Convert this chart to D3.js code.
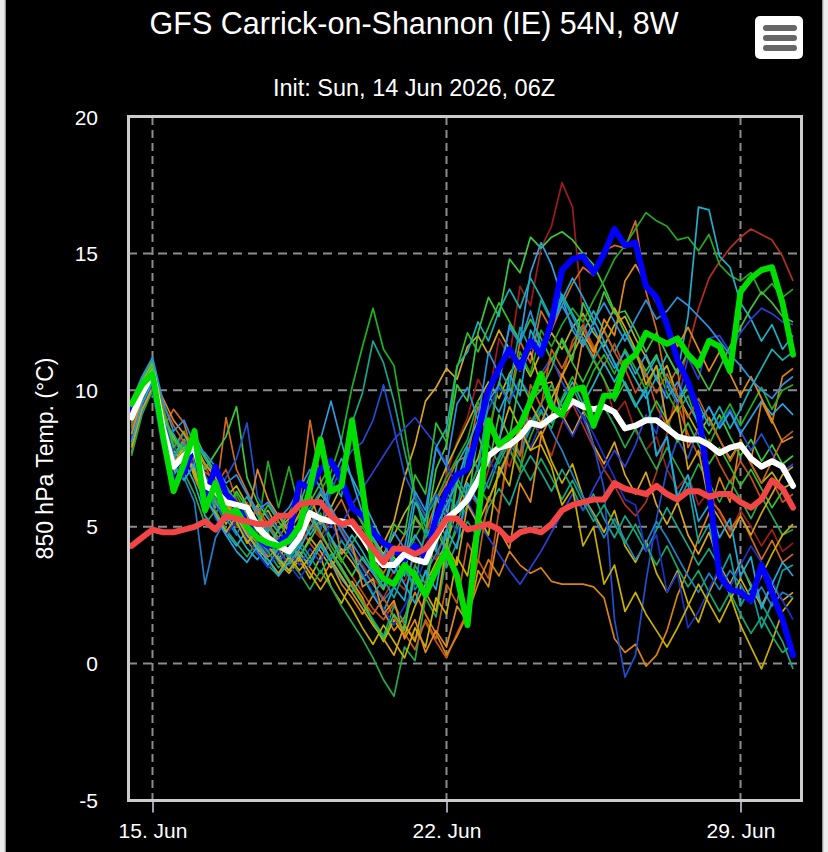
<!DOCTYPE html>
<html>

<head>
    <meta charset="utf-8">
    <title>GFS Ensemble 850 hPa</title>
    <script src="https://d3js.org/d3.v7.min.js"></script>
    <style>
        body { margin: 0; background: #ececec; }
        svg text { font-family: "Liberation Sans", Arial, sans-serif; }
    </style>
</head>

<body>
    <div id="my_dataviz"></div>

<script>

    // ---- data (850 hPa temperature, deg C, 6-hourly from 14 Jun 12Z) ----
    var startTime = Date.UTC(2026, 5, 14, 12);
    var stepHours = 6;

    var tickDates = [Date.UTC(2026, 5, 15), Date.UTC(2026, 5, 22), Date.UTC(2026, 5, 29)];
    var yTicks = [-5, 0, 5, 10, 15, 20];

    var titleText = "GFS Carrick-on-Shannon (IE) 54N, 8W";
    var subtitleText = "Init: Sun, 14 Jun 2026, 06Z";
    var yAxisTitle = "850 hPa Temp. (°C)";

    // ensemble members (thin lines)
    var memberColors = ["#9b1c1c", "#b03020", "#c4501c", "#d2691e", "#d9820f", "#daa520", "#c9b000", "#b8b418",
        "#3cc83c", "#22aa22", "#1db31d", "#17a589", "#1fb0c8", "#25a84a", "#1f4fd0", "#2a3fd6",
        "#1f7fc8", "#2ea0e0", "#18b0b4", "#12a86a", "#2fbf2f", "#1a30c8", "#c0601a", "#d4a017",
        "#c8b000", "#e08a1e", "#10a0a0", "#40c040", "#20a8d8", "#2c90e0"];

    var members = [
        [8.6, 9.8, 10.7, 9.1, 7.9, 8.2, 7.5, 6.9, 6.2, 5.4, 5.0, 5.3, 4.7, 4.1, 4.4, 3.8,
         4.5, 5.1, 4.6, 5.3, 4.9, 4.2, 3.6, 3.1, 2.7, 3.4, 3.0, 3.9, 4.6, 5.8, 6.9, 8.1,
         9.0, 10.4, 9.7, 11.9, 11.2, 13.8, 13.1, 15.2, 16.0, 17.6, 16.7, 12.6, 11.2, 10.4, 9.1, 9.6,
         8.5, 7.8, 8.3, 7.1, 6.4, 6.9, 5.8, 6.3, 5.5, 4.8, 5.6, 5.0, 4.3, 4.9, 4.1, 4.4],
        [8.3, 9.6, 10.4, 8.9, 7.5, 7.2, 7.6, 6.1, 7.0, 6.2, 5.6, 5.9, 5.1, 4.7, 4.4, 3.9,
         4.3, 5.0, 4.6, 5.5, 4.8, 4.1, 3.5, 2.9, 2.4, 3.1, 2.7, 3.6, 4.2, 3.8, 4.9, 5.6,
         6.3, 5.8, 7.1, 7.9, 7.2, 8.4, 9.0, 8.3, 7.6, 8.8, 9.5, 8.7, 7.9, 7.1, 6.5, 5.8,
         5.4, 5.9, 7.0, 8.4, 10.1, 11.5, 13.0, 14.1, 14.7, 15.2, 15.6, 15.9, 15.7, 15.5, 14.9, 14.0],
        [9.2, 10.1, 10.9, 9.4, 8.1, 7.9, 8.3, 7.2, 6.5, 7.1, 6.0, 5.2, 5.6, 4.9, 5.2, 4.6,
         5.0, 4.4, 3.9, 4.5, 3.8, 3.2, 2.6, 2.0, 1.6, 2.2, 1.4, 0.9, 1.5, 0.8, 0.2, 1.1,
         1.9, 3.8, 3.1, 5.6, 7.9, 7.0, 9.8, 10.4, 11.1, 10.5, 11.8, 12.4, 11.6, 10.9, 11.7, 10.8,
         9.9, 10.6, 9.4, 8.7, 9.5, 8.4, 7.6, 8.2, 7.3, 6.6, 7.4, 6.8, 6.0, 6.7, 5.9, 6.2],
        [8.1, 9.4, 10.3, 8.6, 9.3, 8.8, 7.4, 6.6, 6.0, 9.0, 7.1, 6.3, 5.5, 5.0, 4.6, 5.2,
         5.8, 8.9, 6.7, 5.4, 6.0, 5.1, 4.5, 3.8, 3.3, 4.0, 4.7, 5.3, 4.8, 5.9, 6.6, 7.4,
         7.6, 9.4, 8.2, 10.3, 9.6, 11.8, 11.0, 12.9, 12.2, 13.1, 13.9, 14.5, 14.2, 15.1, 15.3, 15.2,
         16.2, 13.6, 12.2, 10.1, 10.8, 7.9, 8.6, 6.0, 5.6, 4.9, 5.4, 4.6, 3.8, 4.5, 3.7, 4.0],
        [7.7, 9.5, 10.5, 8.2, 7.4, 8.0, 6.8, 5.9, 6.6, 5.8, 5.2, 4.8, 4.4, 3.9, 4.2, 3.6,
         4.1, 3.5, 3.0, 3.7, 2.9, 2.4, 1.8, 2.5, 1.9, 1.2, 1.7, 2.6, 1.8, 1.1, 0.3, 1.0,
         1.8, 2.9, 3.8, 3.2, 4.1, 3.6, 3.3, 3.5, 3.0, 2.9, 2.9, 2.9, 2.8, 2.4, 0.9, 0.4,
         0.7, -0.1, 0.3, 1.2, 2.5, 3.4, 4.6, 5.5, 6.8, 5.9, 8.2, 7.4, 9.6, 8.8, 10.5, 10.8],
        [8.9, 9.9, 10.6, 8.3, 7.1, 7.8, 7.0, 6.3, 5.7, 6.4, 5.5, 4.9, 5.8, 4.3, 3.8, 4.5,
         3.9, 4.6, 4.1, 3.5, 4.2, 3.7, 3.1, 3.6, 4.4, 5.2, 6.8, 8.0, 9.6, 10.1, 10.8, 10.4,
         11.6, 12.0, 11.3, 12.2, 11.5, 10.7, 11.4, 10.2, 10.3, 9.1, 8.4, 9.2, 8.0, 7.3, 8.1, 6.9,
         6.2, 7.0, 5.8, 5.1, 5.9, 4.7, 4.0, 4.8, 3.6, 2.9, 3.7, 2.8, 2.1, 2.9, 2.3, 2.6],
        [8.0, 9.2, 10.2, 8.7, 7.8, 7.3, 7.7, 6.4, 5.9, 5.1, 5.7, 4.5, 4.0, 4.8, 3.7, 3.3,
         3.8, 3.1, 3.9, 2.8, 2.2, 3.0, 2.4, 1.5, 0.8, 1.6, 1.0, 2.1, 2.9, 3.7, 4.4, 5.6,
         6.8, 7.5, 8.9, 8.2, 9.4, 8.6, 7.8, 8.5, 7.4, 6.6, 7.3, 6.1, 5.5, 4.8, 5.6, 4.3,
         3.7, 4.5, 3.3, 2.6, 3.4, 2.2, 1.5, 2.6, 3.4, 2.5, 1.4, 0.6, -0.2, 0.8, 1.9, 2.4],
        [9.4, 10.3, 11.0, 9.0, 8.3, 7.5, 8.0, 7.3, 6.8, 6.1, 6.5, 5.8, 5.2, 5.6, 4.9, 5.3,
         4.7, 5.5, 6.2, 5.7, 6.5, 5.9, 5.2, 4.6, 4.0, 4.7, 5.5, 6.1, 5.4, 6.3, 7.2, 8.0,
         8.8, 9.6, 10.3, 9.7, 10.6, 11.2, 10.5, 11.4, 12.1, 11.5, 12.3, 12.8, 12.1, 11.6, 12.4, 12.7,
         11.9, 11.2, 10.4, 10.9, 9.8, 9.1, 8.4, 9.0, 8.2, 7.5, 8.1, 7.3, 6.6, 7.0, 6.4, 6.6],
        [8.7, 9.7, 10.5, 8.8, 7.6, 8.2, 7.8, 7.1, 7.7, 8.3, 9.4, 6.8, 5.9, 5.3, 4.8, 4.4,
         3.9, 4.5, 5.2, 4.6, 3.8, 3.2, 3.9, 3.3, 2.7, 3.9, 3.2, 5.4, 4.8, 7.1, 8.0, 10.2,
         9.6, 12.1, 13.4, 12.7, 14.8, 14.3, 15.6, 15.2, 15.6, 15.8, 15.5, 15.0, 14.6, 13.8, 12.9, 12.1,
         11.4, 10.7, 11.3, 10.2, 9.5, 10.1, 9.0, 8.4, 9.1, 8.3, 7.6, 8.2, 7.4, 8.0, 7.3, 7.6],
        [9.0, 10.0, 10.8, 9.3, 8.0, 7.3, 8.6, 6.7, 6.1, 5.6, 6.2, 5.4, 4.8, 7.4, 5.7, 7.2,
         5.6, 4.9, 5.5, 4.3, 3.7, 4.4, 5.0, 4.2, 3.6, 4.3, 3.7, 4.6, 5.3, 6.0, 6.8, 7.5,
         8.2, 9.6, 8.4, 10.3, 9.5, 11.4, 10.6, 12.2, 11.6, 12.4, 13.0, 12.5, 13.3, 14.0, 14.8, 15.3,
         15.9, 16.5, 16.2, 16.0, 15.5, 15.6, 15.1, 15.7, 14.6, 14.2, 14.0, 14.3, 13.5, 13.9, 13.4, 13.7],
        [8.4, 9.5, 10.2, 8.5, 7.3, 7.9, 7.2, 6.0, 6.4, 5.7, 5.1, 4.6, 5.0, 4.5, 4.0, 4.7,
         4.8, 5.5, 6.3, 7.0, 8.2, 10.1, 11.6, 13.0, 11.5, 10.9, 8.6, 6.2, 4.6, 5.3, 4.1, 4.9,
         5.8, 6.5, 5.9, 7.0, 7.8, 7.1, 8.3, 9.2, 8.6, 9.7, 10.5, 9.8, 10.7, 11.3, 10.6, 11.5,
         10.8, 10.0, 10.9, 9.9, 9.2, 9.8, 8.7, 8.0, 8.8, 9.5, 8.7, 9.4, 10.1, 9.3, 10.0, 10.2],
        [8.9, 9.8, 10.6, 8.7, 7.0, 7.6, 8.1, 6.7, 5.5, 6.0, 5.3, 4.7, 4.3, 5.1, 4.6, 3.8,
         4.4, 5.3, 4.9, 6.7, 6.1, 8.8, 9.9, 11.8, 11.0, 9.6, 7.8, 6.1, 5.0, 4.2, 3.5, 4.4,
         5.2, 4.6, 5.7, 6.4, 5.8, 6.9, 7.6, 7.0, 6.3, 7.1, 6.4, 5.6, 6.2, 5.3, 4.6, 5.4,
         4.8, 4.1, 4.9, 5.7, 5.0, 4.3, 3.6, 4.2, 3.5, 2.8, 3.6, 2.9, 2.2, 1.5, 0.8, -0.2],
        [8.2, 9.3, 10.1, 8.4, 6.9, 7.4, 6.6, 5.4, 4.9, 5.5, 4.8, 4.2, 3.8, 4.4, 3.9, 3.4,
         4.0, 3.6, 4.3, 3.7, 3.1, 2.6, 3.2, 2.5, 1.9, 2.8, 2.3, 4.4, 3.7, 6.1, 5.3, 7.3,
         8.0, 8.9, 9.8, 9.2, 10.1, 9.4, 8.7, 9.5, 8.8, 9.6, 10.3, 9.5, 10.2, 11.0, 10.3, 11.1,
         10.4, 9.7, 10.5, 11.3, 10.6, 12.7, 16.7, 16.6, 14.9, 14.5, 13.2, 12.6, 11.8, 12.4, 11.5, 12.0],
        [7.6, 9.1, 10.0, 8.0, 6.6, 7.0, 6.2, 5.1, 5.6, 4.9, 4.4, 3.9, 4.5, 3.6, 3.2, 3.8,
         3.3, 2.7, 3.4, 2.8, 2.1, 1.5, 0.9, 0.2, -0.6, -1.2, 0.6, 0.1, 2.4, 1.7, 3.9, 5.1,
         6.3, 7.1, 6.4, 7.5, 8.2, 7.6, 8.8, 9.5, 10.2, 9.4, 10.1, 9.3, 8.6, 9.4, 8.7, 7.9,
         8.6, 7.8, 7.1, 7.9, 7.2, 6.5, 7.3, 6.6, 5.9, 6.7, 6.0, 5.3, 6.1, 5.4, 4.7, 4.9],
        [8.5, 9.6, 10.3, 8.9, 7.7, 7.1, 7.9, 6.9, 6.2, 6.8, 7.5, 8.8, 6.1, 5.4, 4.9, 4.3,
         4.8, 5.6, 4.9, 6.3, 7.2, 7.8, 8.1, 8.9, 10.2, 8.6, 6.9, 6.1, 5.4, 6.2, 5.7, 6.8,
         7.6, 8.5, 9.3, 10.1, 9.6, 10.4, 9.8, 10.6, 11.2, 10.3, 9.6, 9.0, 8.0, 6.4, 1.6, -0.5,
         0.3, 3.0, 5.3, 7.1, 8.2, 7.5, 8.6, 9.4, 8.7, 9.3, 8.5, 7.8, 8.4, 7.7, 7.0, 7.3],
        [9.1, 10.0, 10.7, 9.2, 7.8, 8.4, 7.3, 6.5, 5.8, 5.2, 5.9, 5.1, 4.5, 4.0, 4.6, 4.1,
         3.6, 4.2, 3.7, 4.5, 5.1, 5.8, 6.4, 7.0, 7.6, 8.2, 8.6, 9.0, 8.5, 8.0, 7.3, 6.5,
         5.9, 5.2, 4.6, 4.0, 3.4, 2.9, 3.5, 4.1, 4.8, 5.5, 6.2, 5.6, 6.4, 7.1, 7.8, 7.2,
         8.0, 9.1, 8.4, 10.3, 9.5, 11.2, 10.4, 11.9, 12.0, 11.4, 12.1, 12.6, 13.0, 12.8, 12.5, 12.4],
        [8.0, 9.2, 10.4, 8.6, 7.2, 6.8, 5.9, 2.9, 4.6, 5.3, 4.7, 5.5, 4.9, 4.3, 3.7, 4.2,
         5.0, 5.7, 6.3, 5.6, 4.8, 4.1, 3.5, 2.9, 2.3, 2.8, 3.5, 2.7, 3.3, 4.0, 4.8, 5.9,
         6.6, 5.8, 6.7, 7.6, 8.4, 7.7, 8.6, 9.3, 8.5, 7.8, 6.9, 6.1, 5.4, 4.6, 5.3, 4.5,
         3.8, 4.4, 5.2, 4.6, 3.9, 3.2, 2.6, 3.3, 2.7, 3.4, 2.9, 2.2, 2.8, 2.1, 2.6, 2.4],
        [8.8, 9.9, 10.8, 9.0, 7.5, 8.1, 7.0, 6.2, 5.4, 4.8, 4.3, 4.9, 4.1, 3.6, 4.2, 4.9,
         5.8, 6.9, 8.2, 9.6, 8.1, 6.7, 5.5, 4.6, 3.9, 3.3, 4.0, 4.7, 4.1, 5.0, 5.8, 6.6,
         7.9, 7.1, 9.6, 10.2, 12.4, 11.8, 14.3, 15.4, 14.6, 13.4, 12.2, 11.6, 12.3, 11.5, 10.8, 11.4,
         10.6, 11.3, 10.4, 9.7, 10.3, 9.5, 8.8, 9.4, 8.6, 9.2, 8.4, 9.0, 9.6, 9.1, 9.5, 9.1],
        [9.3, 10.2, 10.9, 8.9, 8.4, 7.7, 8.2, 7.5, 6.9, 6.3, 5.6, 6.1, 5.4, 4.8, 5.5, 4.9,
         5.4, 4.7, 5.3, 4.6, 4.0, 4.7, 4.1, 3.4, 2.8, 4.1, 3.7, 5.9, 5.2, 7.9, 8.6, 10.9,
         11.4, 12.5, 11.8, 12.9, 13.7, 13.0, 14.1, 13.4, 12.6, 13.5, 12.8, 12.1, 12.9, 12.2, 11.4, 12.1,
         11.3, 10.5, 11.2, 10.4, 9.6, 10.3, 9.5, 8.7, 9.4, 8.6, 9.3, 10.1, 10.8, 11.5, 11.1, 11.4],
        [8.6, 9.7, 10.5, 8.4, 7.1, 7.6, 8.3, 6.4, 5.8, 6.5, 5.9, 5.3, 4.6, 4.1, 3.5, 3.9,
         4.5, 3.9, 3.3, 4.0, 3.4, 2.8, 2.2, 1.6, 1.0, 2.1, 1.5, 3.6, 2.9, 5.4, 4.6, 6.8,
         6.1, 7.2, 8.0, 7.3, 8.1, 7.4, 6.7, 7.5, 6.8, 6.0, 6.7, 5.9, 5.2, 5.8, 5.1, 4.4,
         5.1, 4.3, 3.6, 4.3, 3.5, 2.8, 3.4, 2.6, 1.9, 2.6, 1.8, 1.1, 1.7, 1.0, 0.4, 0.7],
        [9.5, 10.4, 11.1, 9.3, 7.9, 8.5, 7.4, 6.8, 6.2, 5.6, 6.3, 5.7, 5.1, 5.8, 5.2, 4.6,
         5.2, 5.9, 6.6, 7.3, 6.5, 5.8, 5.1, 4.5, 3.8, 5.1, 4.7, 6.9, 6.2, 8.8, 8.1, 10.8,
         12.1, 11.4, 12.3, 13.2, 12.5, 11.8, 12.6, 11.9, 11.1, 11.8, 11.0, 10.3, 11.1, 10.4, 9.6, 10.3,
         9.5, 8.8, 9.6, 8.9, 8.1, 8.8, 8.0, 7.3, 7.9, 7.2, 6.5, 7.1, 6.4, 5.7, 6.3, 5.7],
        [8.2, 9.4, 10.2, 8.6, 7.4, 6.9, 7.5, 6.7, 5.3, 4.7, 5.2, 4.6, 4.0, 3.5, 4.1, 3.6,
         3.1, 3.7, 4.4, 5.1, 4.5, 3.9, 3.3, 2.6, 2.0, 1.4, 2.1, 2.9, 3.8, 4.7, 5.5, 4.8,
         5.7, 6.6, 7.5, 6.8, 7.7, 8.6, 7.9, 8.8, 9.7, 9.0, 8.3, 9.1, 8.4, 7.6, 6.8, 6.0,
         5.8, 4.1, 4.7, 2.6, 3.3, 1.3, 1.9, 2.7, 3.5, 2.8, 3.6, 4.3, 3.7, 3.0, 2.3, 1.6],
        [8.7, 9.9, 10.6, 9.5, 8.7, 8.1, 7.4, 7.0, 6.7, 6.0, 5.4, 5.0, 5.7, 5.1, 4.5, 4.0,
         4.6, 5.3, 4.7, 4.1, 3.5, 2.9, 2.3, 1.8, 2.4, 1.7, 1.1, 0.5, 1.6, 0.9, 2.9, 2.2,
         4.4, 3.7, 6.1, 5.5, 8.3, 7.6, 10.2, 9.4, 11.5, 10.8, 11.6, 12.3, 11.5, 12.2, 11.4, 10.7,
         11.4, 10.6, 9.9, 10.6, 9.8, 9.0, 9.7, 8.9, 8.2, 7.4, 8.1, 7.3, 6.6, 7.4, 8.2, 8.5],
        [7.9, 9.3, 10.1, 8.1, 7.0, 7.7, 7.1, 6.0, 5.5, 4.8, 5.4, 4.7, 4.2, 3.8, 3.3, 3.9,
         3.4, 3.9, 4.5, 3.8, 3.2, 2.6, 2.0, 1.4, 0.9, 0.3, 1.4, 0.8, 2.6, 1.9, 4.3, 3.6,
         5.8, 5.1, 6.0, 6.9, 7.8, 8.6, 9.5, 8.8, 9.7, 10.5, 11.3, 12.1, 11.4, 12.2, 13.0, 12.3,
         11.5, 10.2, 10.9, 8.8, 9.4, 7.1, 7.8, 5.9, 5.3, 4.6, 5.4, 4.7, 5.5, 6.2, 6.9, 7.2],
        [9.1, 10.1, 10.8, 8.6, 7.3, 7.9, 6.9, 6.1, 6.6, 5.9, 5.2, 4.4, 4.9, 4.3, 3.8, 3.4,
         3.9, 3.3, 2.7, 3.3, 2.6, 2.0, 1.3, 0.7, 1.4, 0.8, 0.2, 1.3, 0.6, 2.4, 1.8, 3.9,
         3.2, 5.4, 4.7, 7.2, 6.5, 8.6, 7.8, 8.0, 7.2, 5.8, 6.4, 4.3, 5.0, 2.9, 3.6, 1.9,
         2.6, 1.8, 1.2, 0.6, 1.3, 2.1, 2.9, 2.2, 1.5, 2.3, 3.1, 2.4, 3.2, 4.0, 4.7, 5.1],
        [8.4, 9.7, 10.5, 9.7, 8.9, 8.4, 7.8, 7.3, 6.9, 6.4, 5.8, 5.2, 7.1, 6.0, 5.4, 4.8,
         5.5, 6.2, 5.1, 5.7, 4.0, 4.4, 2.8, 3.1, 1.8, 2.3, 0.9, 1.6, 0.4, 1.2, 0.6, 2.1,
         1.5, 3.4, 2.8, 4.9, 4.2, 6.6, 5.9, 8.3, 9.1, 10.6, 9.8, 11.9, 11.2, 12.6, 12.0, 14.0,
         14.6, 13.9, 13.2, 12.4, 11.6, 12.3, 11.5, 10.7, 11.4, 10.6, 9.8, 10.5, 9.7, 8.9, 8.1, 8.3],
        [8.9, 10.0, 10.7, 8.8, 7.6, 8.0, 7.6, 6.4, 6.0, 5.3, 5.8, 5.1, 4.5, 5.0, 4.4, 3.9,
         4.3, 3.7, 4.4, 3.8, 4.5, 3.9, 3.2, 2.5, 3.1, 2.4, 3.4, 2.9, 4.9, 4.1, 6.3, 5.6,
         7.9, 7.1, 9.6, 10.8, 10.1, 12.3, 11.5, 13.3, 12.5, 13.4, 12.7, 11.9, 11.1, 11.8, 11.0, 10.2,
         9.4, 10.1, 7.6, 8.3, 5.9, 6.6, 4.4, 5.1, 3.2, 4.0, 2.1, 2.8, 1.3, 2.2, 3.4, 3.6],
        [9.2, 10.2, 10.9, 9.1, 8.2, 7.8, 8.4, 7.6, 7.0, 6.3, 5.7, 5.2, 4.7, 4.2, 4.9, 5.5,
         6.2, 5.5, 4.8, 4.1, 3.5, 2.8, 2.2, 1.5, 0.9, 1.8, 1.2, 3.4, 2.6, 4.9, 4.1, 6.6,
         5.8, 8.4, 7.2, 9.1, 8.3, 10.4, 9.6, 10.0, 10.8, 11.9, 11.1, 13.2, 12.4, 13.6, 12.8, 12.9,
         12.2, 11.4, 12.1, 11.3, 10.6, 11.4, 10.7, 10.0, 10.8, 11.6, 12.3, 13.0, 13.6, 13.2, 12.7, 12.5],
        [8.1, 9.5, 10.3, 8.5, 7.2, 6.7, 7.3, 6.1, 5.4, 4.7, 4.1, 3.7, 4.3, 3.8, 3.2, 3.7,
         4.2, 4.9, 5.7, 6.6, 7.5, 6.8, 6.0, 5.2, 4.4, 3.6, 2.9, 2.2, 3.4, 2.7, 4.9, 4.2,
         6.6, 5.9, 8.7, 8.0, 10.6, 9.8, 12.2, 11.5, 12.4, 13.3, 14.1, 13.4, 12.6, 11.8, 11.0, 10.2,
         9.4, 10.0, 7.6, 8.3, 6.1, 6.9, 5.2, 5.8, 4.6, 5.3, 3.2, 3.9, 2.0, 2.9, 3.7, 3.2],
        [9.6, 10.5, 11.2, 9.6, 8.5, 8.9, 8.0, 7.7, 7.2, 6.6, 6.9, 6.2, 5.6, 5.9, 5.3, 5.7,
         6.4, 7.1, 6.4, 5.7, 5.0, 4.4, 3.8, 3.3, 3.9, 4.8, 4.2, 6.3, 5.6, 7.9, 7.2, 9.5,
         10.1, 8.9, 11.4, 10.6, 12.3, 11.7, 12.9, 11.6, 12.4, 13.1, 12.4, 11.7, 12.5, 13.2, 12.5, 11.8,
         12.6, 13.3, 12.6, 12.9, 13.4, 13.1, 12.7, 12.3, 11.8, 11.3, 10.9, 10.4, 10.0, 9.7, 10.2, 10.5]
    ];

    // control run (blue)
    var control = [9.3, 10.1, 10.5, 8.2, 6.6, 7.0, 8.0, 6.0, 7.2, 6.2, 5.8, 5.1, 4.6, 4.3, 4.4, 4.7,
        6.6, 6.4, 7.1, 7.4, 6.7, 5.7, 5.4, 4.8, 4.4, 4.2, 3.8, 4.3, 3.9, 5.3, 6.3, 6.9,
        7.1, 8.5, 10.0, 10.8, 11.5, 10.8, 11.8, 11.3, 12.5, 14.4, 14.8, 14.9, 14.3, 15.0, 15.9, 15.3,
        15.4, 13.8, 13.4, 12.4, 11.1, 10.3, 9.2, 6.4, 3.2, 2.7, 2.6, 2.3, 3.6, 2.6, 1.6, 0.3];

    // ensemble mean (white)
    var ensMean = [9.0, 9.9, 10.6, 8.6, 7.2, 7.6, 7.9, 6.5, 6.3, 5.9, 5.8, 5.7, 5.0, 4.6, 4.3, 4.1,
        4.6, 5.5, 5.3, 5.2, 5.2, 5.1, 4.6, 4.0, 3.6, 3.6, 4.0, 3.8, 3.7, 4.6, 5.3, 5.6,
        6.0, 6.7, 7.6, 7.9, 8.0, 8.3, 8.8, 8.7, 9.0, 9.2, 9.6, 9.4, 9.3, 9.4, 9.2, 8.6,
        8.7, 8.9, 8.9, 8.6, 8.3, 8.2, 8.2, 8.0, 7.7, 7.9, 8.0, 7.5, 7.2, 7.4, 7.2, 6.5];

    // operational run (green)
    var oper = [9.5, 10.2, 10.6, 8.3, 6.3, 7.3, 8.5, 5.6, 6.6, 5.4, 5.6, 5.0, 4.6, 4.4, 4.3, 4.5,
        5.0, 6.4, 8.2, 6.3, 6.5, 8.9, 6.4, 3.6, 3.1, 2.9, 3.6, 3.2, 2.5, 3.4, 4.1, 3.2,
        1.4, 5.2, 8.9, 8.0, 8.3, 8.7, 9.6, 10.6, 9.4, 9.1, 10.0, 10.1, 8.7, 9.8, 9.8, 11.0,
        11.3, 12.1, 11.9, 11.7, 11.9, 11.3, 10.9, 11.8, 11.6, 10.7, 13.6, 14.1, 14.4, 14.5, 13.2, 11.3];

    // climate reference (red)
    var climate = [4.3, 4.6, 4.9, 4.8, 4.8, 4.9, 5.0, 5.2, 4.9, 5.4, 5.3, 5.2, 5.1, 5.1, 5.4, 5.4,
        5.8, 5.9, 5.9, 5.4, 5.1, 5.2, 4.7, 4.2, 3.7, 4.2, 4.2, 4.0, 4.2, 4.7, 5.3, 5.3,
        4.9, 5.0, 5.1, 4.9, 4.5, 4.8, 4.9, 4.8, 5.1, 5.6, 5.8, 5.9, 6.0, 6.0, 6.6, 6.4,
        6.3, 6.2, 6.5, 6.2, 6.0, 6.3, 6.3, 6.1, 6.2, 6.2, 5.9, 5.7, 6.0, 6.7, 6.4, 5.7];


    // ---- chart ----
    var width = 828, height = 852;
    var plot = { left: 128, right: 800, top: 117, bottom: 800 };

    var svg = d3.select("#my_dataviz")
        .append("svg")
        .attr("width", width)
        .attr("height", height);

    // black page with thin frame at the sides
    svg.append("rect")
        .attr("x", 5).attr("y", 0)
        .attr("width", 818).attr("height", height)
        .attr("fill", "#000");
    svg.selectAll("line.frame")
        .data([5, 823])
        .enter()
        .append("line")
        .attr("x1", function (d) { return d; }).attr("x2", function (d) { return d; })
        .attr("y1", 0).attr("y2", height)
        .attr("stroke", "#c8c8c8")
        .attr("stroke-width", 1.5);

    // scales
    var x = d3.scaleUtc()
        .domain([Date.UTC(2026, 5, 14, 10), Date.UTC(2026, 5, 30, 10)])
        .range([plot.left, plot.right]);
    var y = d3.scaleLinear()
        .domain([-5, 20])
        .range([plot.bottom, plot.top]);

    function timeAt(i) { return new Date(startTime + i * stepHours * 3600 * 1000); }

    // dashed grid
    svg.append("g")
        .selectAll("line")
        .data(yTicks.filter(function (d) { return d > -5 && d < 20; }))
        .enter()
        .append("line")
        .attr("x1", plot.left).attr("x2", plot.right)
        .attr("y1", function (d) { return y(d); })
        .attr("y2", function (d) { return y(d); })
        .attr("stroke", "#8c8c8c")
        .attr("stroke-width", 2)
        .attr("stroke-dasharray", "9,6");
    svg.append("g")
        .selectAll("line")
        .data(tickDates)
        .enter()
        .append("line")
        .attr("x1", function (d) { return x(d); })
        .attr("x2", function (d) { return x(d); })
        .attr("y1", plot.top).attr("y2", plot.bottom)
        .attr("stroke", "#8c8c8c")
        .attr("stroke-width", 2)
        .attr("stroke-dasharray", "8,5");

    // clip the lines to the plot box
    svg.append("clipPath")
        .attr("id", "plotClip")
        .append("rect")
        .attr("x", plot.left).attr("y", plot.top)
        .attr("width", plot.right - plot.left)
        .attr("height", plot.bottom - plot.top);

    var line = d3.line()
        .x(function (d, i) { return x(timeAt(i)); })
        .y(function (d) { return y(d); });

    var lines = svg.append("g").attr("clip-path", "url(#plotClip)");

    // members
    lines.selectAll("path.member")
        .data(members)
        .enter()
        .append("path")
        .attr("class", "member")
        .attr("d", line)
        .attr("fill", "none")
        .attr("stroke", function (d, i) { return memberColors[i]; })
        .attr("stroke-width", 1.7)
        .attr("stroke-linejoin", "round");

    // highlighted runs: control, mean, operational, climate
    var thick = [
        { values: control, color: "#0000ff" },
        { values: ensMean, color: "#ffffff" },
        { values: oper, color: "#00dd00" },
        { values: climate, color: "#f24545" }
    ];
    lines.selectAll("path.thick")
        .data(thick)
        .enter()
        .append("path")
        .attr("class", "thick")
        .attr("d", function (d) { return line(d.values); })
        .attr("fill", "none")
        .attr("stroke", function (d) { return d.color; })
        .attr("stroke-width", 6)
        .attr("stroke-linejoin", "round")
        .attr("stroke-linecap", "round");

    // plot border
    svg.append("rect")
        .attr("x", plot.left + 0.5).attr("y", plot.top - 0.5)
        .attr("width", plot.right - plot.left + 1)
        .attr("height", plot.bottom - plot.top + 1)
        .attr("fill", "none")
        .attr("stroke", "#cccccc")
        .attr("stroke-width", 3);

    // X axis
    var xAxis = svg.append("g")
        .attr("transform", "translate(0," + (plot.bottom + 1.5) + ")")
        .call(d3.axisBottom(x)
            .tickValues(tickDates.map(function (d) { return new Date(d); }))
            .tickFormat(d3.utcFormat("%-d. %b"))
            .tickSize(11)
            .tickPadding(11));
    xAxis.select(".domain").remove();
    xAxis.selectAll(".tick line").attr("stroke", "#ccd6eb").attr("stroke-width", 1.5);
    xAxis.selectAll(".tick text")
        .attr("fill", "#fff")
        .style("font-size", "21px");

    // Y labels
    svg.append("g")
        .selectAll("text")
        .data(yTicks)
        .enter()
        .append("text")
        .attr("x", 98)
        .attr("y", function (d) { return y(d) + 7.5; })
        .attr("text-anchor", "end")
        .attr("fill", "#fff")
        .style("font-size", "21px")
        .text(function (d) { return d; });

    // text label for the y axis
    svg.append("text")
        .attr("transform", "translate(53," + ((plot.top + plot.bottom) / 2) + ") rotate(-90)")
        .attr("text-anchor", "middle")
        .attr("fill", "#fff")
        .style("font-size", "23px")
        .text(yAxisTitle);

    // title and subtitle
    svg.append("text")
        .attr("x", 414).attr("y", 34)
        .attr("text-anchor", "middle")
        .attr("fill", "#fff")
        .style("font-size", "30.5px")
        .text(titleText);
    svg.append("text")
        .attr("x", 414).attr("y", 96)
        .attr("text-anchor", "middle")
        .attr("fill", "#fff")
        .style("font-size", "23.5px")
        .text(subtitleText);

    // menu button
    var menu = svg.append("g");
    menu.append("rect")
        .attr("x", 755).attr("y", 16)
        .attr("width", 48).attr("height", 43)
        .attr("rx", 5)
        .attr("fill", "#fff");
    menu.selectAll("line")
        .data([28, 38, 48])
        .enter()
        .append("line")
        .attr("x1", 766).attr("x2", 794)
        .attr("y1", function (d) { return d; })
        .attr("y2", function (d) { return d; })
        .attr("stroke", "#666")
        .attr("stroke-width", 6)
        .attr("stroke-linecap", "round");

</script>
</body>

</html>
